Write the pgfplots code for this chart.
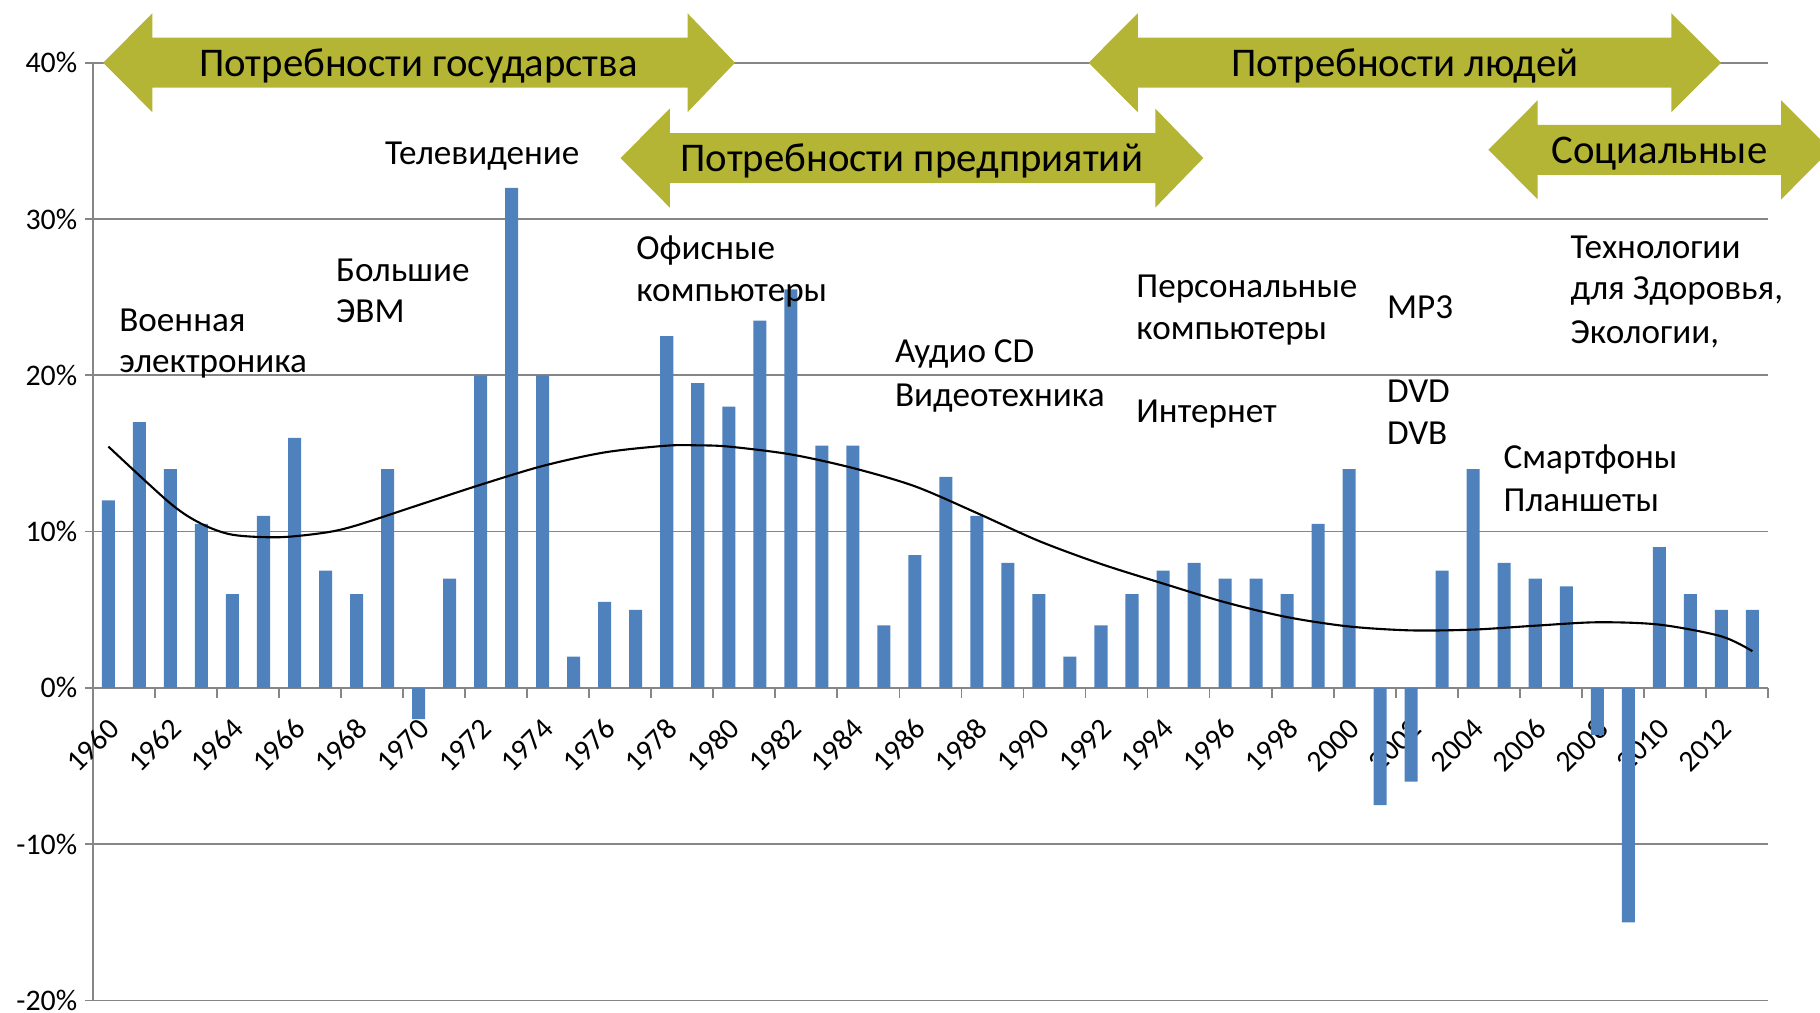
\documentclass[border=0pt]{standalone}
\usepackage{fontspec}
\setmainfont{Carlito}
\usepackage{pgfplots}
\pgfplotsset{compat=1.18}

\definecolor{barblue}{RGB}{79,129,189}
\definecolor{olivec}{RGB}{180,181,52}
\definecolor{gridgray}{RGB}{134,134,134}

% double arrow: left tip, left head back, right head back, right tip,
% head top, body top, centre, body bottom, head bottom
\newcommand{\dblarrow}[9]{%
  \fill[olivec] (axis cs:#1,#7) -- (axis cs:#2,#5) -- (axis cs:#2,#6)
    -- (axis cs:#3,#6) -- (axis cs:#3,#5) -- (axis cs:#4,#7)
    -- (axis cs:#3,#9) -- (axis cs:#3,#8) -- (axis cs:#2,#8)
    -- (axis cs:#2,#9) -- cycle;}

\begin{document}
\begin{tikzpicture}
\useasboundingbox (0,0) rectangle (18.2cm,10.12cm);
\clip (0,0) rectangle (18.2cm,10.12cm);
\begin{axis}[
    at={(0.929cm,0.115cm)}, anchor=south west,
    width=16.75cm, height=9.378cm, scale only axis,
    xmin=1959.5, xmax=2013.5, ymin=-20, ymax=40,
    clip=false,
    axis y line=left, axis x line=middle,
    axis line style={-, draw=gridgray, line width=0.5pt},
    ytick={-20,-10,0,10,20,30,40},
    yticklabels={-20\%,-10\%,0\%,10\%,20\%,30\%,40\%},
    yticklabel style={font=\fontsize{8.5}{10}\selectfont, inner sep=2pt},
    ytick style={draw=gridgray, line width=0.5pt},
    ymajorgrids, grid style={gridgray, line width=0.5pt},
    tick align=outside, major tick length=0.08cm,
    xtick={1960,1962,...,2012},
    xticklabels={1960,1962,1964,1966,1968,1970,1972,1974,1976,1978,1980,1982,1984,1986,1988,1990,1992,1994,1996,1998,2000,2002,2004,2006,2008,2010,2012},
    xtick style={draw=none},
    xticklabel style={font=\fontsize{8.5}{10}\selectfont, yshift=-0.25cm, xshift=0.085cm, rotate=45, anchor=east, inner sep=1pt},
    extra x ticks={1961.5,1963.5,...,2013.5},
    extra x tick labels={},
    extra x tick style={xtick style={draw=gridgray, line width=0.5pt}, major tick length=0.1cm, tick align=outside, grid=none},
]
\addplot[ybar, bar width=0.42, fill=barblue, draw=none] coordinates {
 (1960,12) (1961,17) (1962,14) (1963,10.5) (1964,6) (1965,11) (1966,16) (1967,7.5)
 (1968,6) (1969,14) (1970,-2) (1971,7) (1972,20) (1973,32) (1974,20) (1975,2)
 (1976,5.5) (1977,5) (1978,22.5) (1979,19.5) (1980,18) (1981,23.5) (1982,25.5) (1983,15.5)
 (1984,15.5) (1985,4) (1986,8.5) (1987,13.5) (1988,11) (1989,8) (1990,6) (1991,2)
 (1992,4) (1993,6) (1994,7.5) (1995,8) (1996,7) (1997,7) (1998,6) (1999,10.5)
 (2000,14) (2001,-7.5) (2002,-6) (2003,7.5) (2004,14) (2005,8) (2006,7) (2007,6.5)
 (2008,-3) (2009,-15) (2010,9) (2011,6) (2012,5) (2013,5)
};
\addplot[black, line width=0.6pt, smooth, no markers] coordinates {
 (1960,15.44) (1962,11.8) (1963,10.5) (1964,9.8) (1965.5,9.64) (1967,9.94) (1968,10.4)
 (1970,11.7) (1972,13.0) (1974,14.2) (1976,15.07) (1978,15.5) (1979,15.52) (1980,15.44)
 (1982,14.94) (1984,14.07) (1986,12.9) (1988,11.19) (1990,9.4) (1992,7.93) (1994,6.68)
 (1996,5.48) (1998,4.53) (2000,3.93) (2002,3.68) (2004,3.73) (2006,3.98) (2008,4.2)
 (2010,4.05) (2012,3.3) (2013,2.35)
};

\dblarrow{1959.83}{1961.42}{1978.67}{1980.20}{43.17}{41.6}{40}{38.4}{36.83}
\dblarrow{1976.51}{1978.10}{1993.75}{1995.30}{37.07}{35.5}{33.9}{32.3}{30.73}
\dblarrow{1991.60}{1993.19}{2010.39}{2011.99}{43.17}{41.6}{40}{38.4}{36.83}
\dblarrow{2004.49}{2006.08}{2013.93}{2015.52}{37.6}{36.03}{34.43}{32.83}{31.26}

\begin{scope}[font=\fontsize{11.6}{14}\selectfont, inner sep=0pt]
\node[anchor=base] at (axis cs:1970.0,39.1) {Потребности государства};
\node[anchor=base] at (axis cs:1985.9,33.04) {Потребности предприятий};
\node[anchor=base] at (axis cs:2001.8,39.1) {Потребности людей};
\node[anchor=base] at (axis cs:2010.0,33.58) {Социальные};
\end{scope}

\begin{scope}[font=\fontsize{10}{12}\selectfont, inner sep=0pt]
\node[anchor=base west] at (axis cs:1960.33,22.81) {Военная};
\node[anchor=base west] at (axis cs:1960.33,20.16) {электроника};
\node[anchor=base west] at (axis cs:1967.32,26.0) {Большие};
\node[anchor=base west] at (axis cs:1967.32,23.35) {ЭВМ};
\node[anchor=base west] at (axis cs:1968.9,33.48) {Телевидение};
\node[anchor=base west] at (axis cs:1977.0,27.44) {Офисные};
\node[anchor=base west] at (axis cs:1977.0,24.72) {компьютеры};
\node[anchor=base west] at (axis cs:1985.34,20.79) {Аудио CD};
\node[anchor=base west] at (axis cs:1985.34,18.01) {Видеотехника};
\node[anchor=base west] at (axis cs:1993.12,24.98) {Персональные};
\node[anchor=base west] at (axis cs:1993.12,22.27) {компьютеры};
\node[anchor=base west] at (axis cs:1993.12,16.95) {Интернет};
\node[anchor=base west] at (axis cs:2001.2,23.61) {MP3};
\node[anchor=base west] at (axis cs:2001.2,18.23) {DVD};
\node[anchor=base west] at (axis cs:2001.2,15.56) {DVB};
\node[anchor=base west] at (axis cs:2007.12,27.50) {Технологии};
\node[anchor=base west] at (axis cs:2007.12,24.83) {для Здоровья,};
\node[anchor=base west] at (axis cs:2007.12,22.06) {Экологии,};
\node[anchor=base west] at (axis cs:2004.96,14.06) {Смартфоны};
\node[anchor=base west] at (axis cs:2004.96,11.31) {Планшеты};
\end{scope}
\end{axis}
\end{tikzpicture}
\end{document}
